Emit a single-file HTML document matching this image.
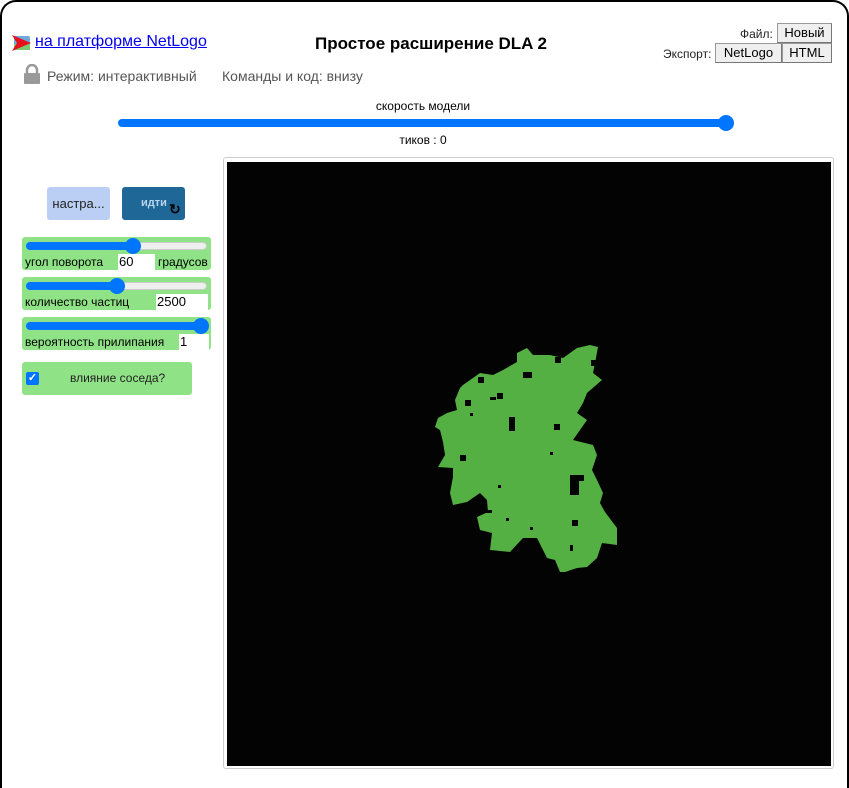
<!DOCTYPE html>
<html><head><meta charset="utf-8">
<style>
*{box-sizing:border-box;margin:0;padding:0}
html,body{width:849px;height:788px;overflow:hidden}
body{background:#fff;position:relative;font-family:"Liberation Sans",Arial,sans-serif;color:#000}
.a{position:absolute}
.frame{left:0;top:0;width:849px;height:788px;border:2px solid #000;border-bottom:none;border-radius:16px 16px 0 0}
.track{position:absolute;height:8px;border-radius:4px;background:#efefef;border:1px solid #ccc}
.fill{position:absolute;height:8px;border-radius:4px;background:#0075ff}
.thumb{position:absolute;width:16px;height:16px;border-radius:50%;background:#0075ff}
.gbox{position:absolute;background:#8fe286;border-radius:3px}
.small{font-size:12px}
.btn{position:absolute;background:#efefef;border:1px solid #999;border-right-color:#777;border-bottom-color:#777;font-size:13px;text-align:center;line-height:17px;color:#000}
</style></head><body>
<div class="a frame"></div>

<svg class="a" style="left:12px;top:34px" width="20" height="18">
<rect x="2" y="2" width="16" height="14" rx="2" fill="#6fa8dc"/><rect x="2" y="10" width="16" height="6" fill="#7bc96f"/>
<polygon points="0,1 19,9 0,17 5,9" fill="#e8101a"/></svg>
<a class="a" style="left:35px;top:33px;font-size:16px;color:#0000ee;text-decoration:underline">на платформе NetLogo</a>

<svg class="a" style="left:24px;top:64px" width="16" height="20">
<path d="M3,9 V6 a5,5 0 0 1 10,0 V9" stroke="#999" stroke-width="2.5" fill="none"/><rect x="0" y="9" width="16" height="11" rx="1" fill="#999"/></svg>
<div class="a" style="left:47px;top:68px;font-size:14px;color:#555">Режим: интерактивный</div>
<div class="a" style="left:222px;top:68px;font-size:14px;color:#555">Команды и код: внизу</div>

<div class="a" style="left:0;width:862px;top:34px;text-align:center;font-size:17px;font-weight:bold">Простое расширение DLA 2</div>

<div class="a small" style="left:740px;top:27px;color:#222">Файл:</div>
<div class="btn" style="left:777px;top:23px;width:55px;height:20px">Новый</div>
<div class="a small" style="left:663px;top:47px;color:#222">Экспорт:</div>
<div class="btn" style="left:715px;top:43px;width:67px;height:20px">NetLogo</div>
<div class="btn" style="left:782px;top:43px;width:50px;height:20px">HTML</div>

<div class="a small" style="left:0;width:846px;top:99px;text-align:center">скорость модели</div>
<div class="fill" style="left:118px;top:119px;width:612px"></div>
<div class="thumb" style="left:718px;top:115px"></div>
<div class="a small" style="left:0;width:846px;top:133px;text-align:center">тиков : 0</div>

<div class="a" style="left:47px;top:187px;width:63px;height:33px;background:#bacff3;border-radius:3px;font-size:13px;text-align:center;line-height:33px;color:#222">настра...</div>
<div class="a" style="left:122px;top:187px;width:63px;height:33px;background:#1f6797;border-radius:3px;font-size:11px;font-weight:bold;color:#b8d4ee;line-height:33px;padding-left:19px">идти<span style="color:#000;font-size:14px;position:absolute;left:47px;top:6px">↻</span></div>

<div class="gbox" style="left:22px;top:237px;width:189px;height:33px"></div>
<div class="track" style="left:26px;top:242px;width:181px"></div>
<div class="fill" style="left:26px;top:242px;width:106px"></div>
<div class="thumb" style="left:125px;top:238px"></div>
<div class="a" style="left:25px;top:255px;font-size:12px">угол поворота</div>
<div class="a" style="left:118px;top:254px;width:37px;height:16px;background:#fff;font-size:13px;padding-left:1px">60</div>
<div class="a" style="left:158px;top:255px;font-size:12px">градусов</div>

<div class="gbox" style="left:22px;top:277px;width:189px;height:33px"></div>
<div class="track" style="left:26px;top:282px;width:181px"></div>
<div class="fill" style="left:26px;top:282px;width:92px"></div>
<div class="thumb" style="left:109px;top:278px"></div>
<div class="a" style="left:25px;top:295px;font-size:12px">количество частиц</div>
<div class="a" style="left:156px;top:294px;width:52px;height:16px;background:#fff;font-size:13px;padding-left:1px">2500</div>

<div class="gbox" style="left:22px;top:317px;width:189px;height:33px"></div>
<div class="fill" style="left:26px;top:322px;width:180px"></div>
<div class="thumb" style="left:193px;top:318px"></div>
<div class="a" style="left:25px;top:335px;font-size:12px">вероятность прилипания</div>
<div class="a" style="left:179px;top:334px;width:30px;height:16px;background:#fff;font-size:13px;padding-left:1px">1</div>

<div class="gbox" style="left:22px;top:362px;width:170px;height:33px"></div>
<div class="a" style="left:26px;top:372px;width:13px;height:13px;background:#0075ff;border-radius:2px;color:#fff;font-size:11px;line-height:13px;text-align:center;font-weight:bold">✓</div>
<div class="a" style="left:70px;top:371px;font-size:12px;color:#222">влияние соседа?</div>

<div class="a" style="left:223px;top:157px;width:611px;height:612px;border:1px solid #ccc;border-radius:3px;background:#fff"></div>
<svg class="a" style="left:227px;top:162px" width="604" height="604">
<rect width="604" height="604" fill="#030303"/>
<g transform="translate(-227,-162)">
<polygon fill="#55b043" points="517,353 527,348 533,355 550,355 563,358 577,348 590,345 598,347 595,363 593,373 602,380 587,393 583,403 577,413 587,420 580,430 573,440 593,445 597,455 592,470 597,480 603,493 600,503 605,512 617,528 617,545 602,543 597,558 587,567 577,568 565,572 560,572 555,560 547,558 537,538 523,538 510,552 490,550 492,533 480,530 477,517 488,512 487,500 480,493 467,502 453,505 450,493 453,477 453,468 438,467 445,455 443,442 440,430 435,427 438,418 447,413 457,410 455,400 460,388 463,385 480,373 493,375 503,370 517,362"/>
<g fill="#030303">
<rect x="509" y="417" width="6" height="14"/><rect x="554" y="424" width="6" height="6"/><rect x="555" y="357" width="6" height="6"/><rect x="523" y="372" width="9" height="6"/>
<rect x="570" y="475" width="9" height="20"/><rect x="578" y="475" width="6" height="6"/><rect x="465" y="400" width="6" height="6"/><rect x="460" y="455" width="6" height="6"/>
<rect x="490" y="397" width="6" height="3"/><rect x="550" y="452" width="3" height="3"/><rect x="498" y="485" width="3" height="3"/><rect x="497" y="393" width="6" height="6"/>
<rect x="572" y="520" width="6" height="6"/><rect x="530" y="527" width="3" height="3"/><rect x="486" y="510" width="6" height="3"/><rect x="506" y="518" width="3" height="3"/>
<rect x="570" y="545" width="3" height="6"/><rect x="478" y="377" width="6" height="6"/><rect x="591" y="360" width="6" height="6"/><rect x="470" y="413" width="3" height="3"/>
</g></g></svg>
</body></html>
